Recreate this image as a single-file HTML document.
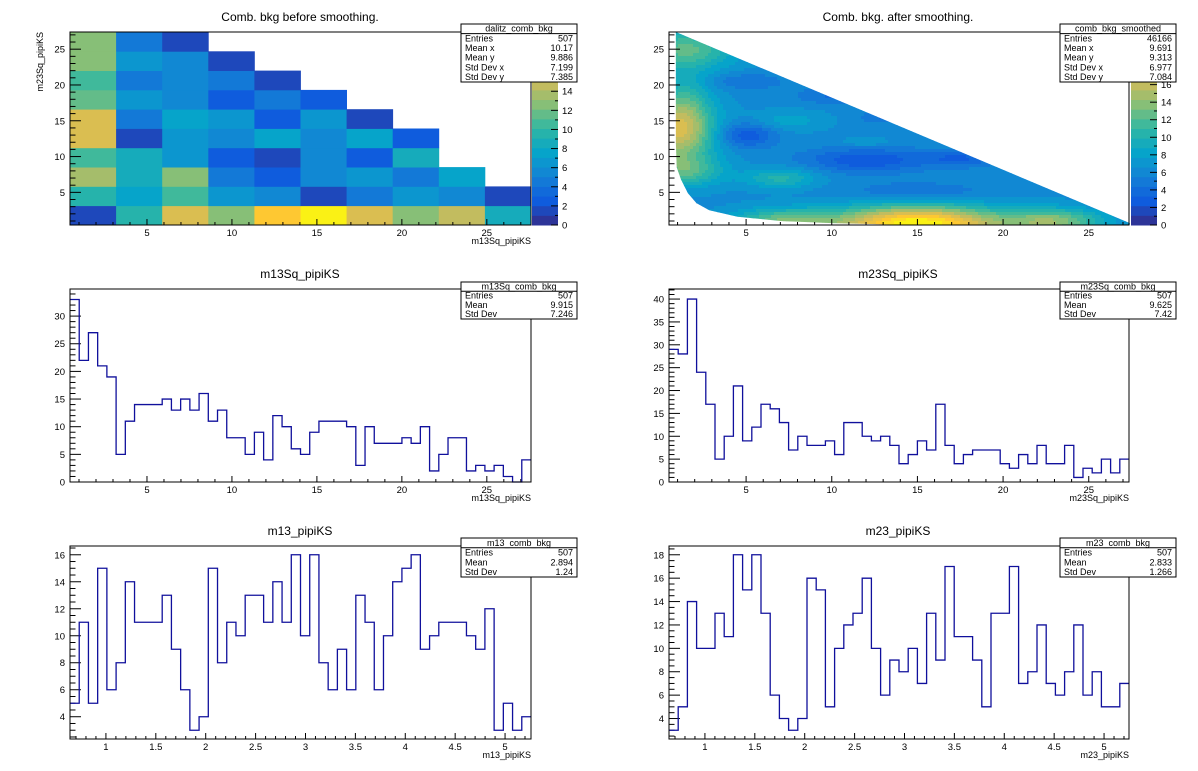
<!DOCTYPE html>
<html><head><meta charset="utf-8"><style>
html,body{margin:0;padding:0;background:#fff;}
svg{display:block;font-family:"Liberation Sans",Arial,sans-serif;}
</style></head><body>
<svg id="c" width="1198" height="771" viewBox="0 0 1198 771" xmlns="http://www.w3.org/2000/svg">
<rect x="0" y="0" width="1198" height="771" fill="#fff"/>
</svg>
<script>
// ---------- data ----------
const dalitzRows = [ // from y bin 1 (bottom) to y bin 10 (top)
  [1.5,10,16,13,18,20,16,13,15,9],
  [10,8,11,7,6,2,5,7,6,2],
  [14,9,13,5,3,6,7,5,8],
  [11,9,7,3,1.5,6,3,9],
  [16,2,7,6,8,6,8,3],
  [16,5,8,7,3,7,2],
  [12,7,6,3,5,3],
  [11,5,6,5,1.5],
  [13,7,6,2],
  [13,5,1.5]
];
const m13SqVals = [33,22,27,21,19,5,11,14,14,14,15,13,15,13,16,11,13,8,8,5,9,4,12,10,6,5,9,11,11,11,10,3,10,7,7,7,8,7,10,2,5,8,8,2,3,2,3,1,0,4];
const m23SqVals = [29,28,40,24,17,5,10,21,9,12,17,16,13,7,10,8,8,9,6,13,13,10,9,10,8,4,6,9,7,17,8,4,6,7,7,7,4,3,6,4,8,4,4,8,1,3,2,5,2,5];
const m13Vals = [5,11,5,15,6,8,14,11,11,11,13,9,6,3,4,15,8,11,10,13,13,11,14,11,16,10,16,8,6,9,6,13,11,6,10,14,15,16,9,10,11,11,11,10,9,12,3,5,3,4];
const m23Vals = [3,5,14,10,10,13,11,18,15,18,13,6,4,3,4,16,15,5,10,12,13,16,10,6,9,8,10,7,13,9,17,11,11,9,5,13,13,17,7,8,12,7,6,8,12,6,8,5,5,7];
// smoothed map blobs: x, y, sigma-x, sigma-y, amplitude
const blobX   = [15, 7, 23, 1, 1.5, 1.5, 7, 12, 5, 17.5, 5, 10, 13, 7.5, 12, 15, 1.5];
const blobY   = [0.5, 1, 1, 13.5, 25, 8, 7, 9.5, 13, 9.7, 20.5, 18.5, 15.5, 15, 12, 5, 18];
const blobSX  = [3.5, 2, 2, 1.5, 2, 1.5, 1.5, 2.5, 1.2, 1.5, 1.5, 1.5, 1, 1.5, 1, 3, 1];
const blobSY  = [1.8, 1.2, 1.2, 3, 2, 1.5, 1, 1.2, 1.2, 0.8, 0.8, 0.8, 0.6, 1, 0.5, 1, 3];
const blobAmp = [16, 6, 7, 10, 6, 5, 4, -4, -4, -3, -2, -2, -2, 2, 1.5, -2, 3];
const smoothBase = 6.3;
const paletteTicksL = [0,2,4,6,8,10,12,14];
const paletteTicksR = [0,2,4,6,8,10,12,14,16];

const NS = "http://www.w3.org/2000/svg";
const svg = document.getElementById('c');
function el(tag, attrs, parent){ const e=document.createElementNS(NS,tag); for(const k in attrs) e.setAttribute(k,attrs[k]); (parent||svg).appendChild(e); return e; }
function txt(s, x, y, size, anchor, parent, extra){ const t=el('text',Object.assign({x:x,y:y,'font-size':size,'text-anchor':anchor||'start',fill:'#000'},extra||{}),parent); t.textContent=s; return t; }

// kBird palette
const bR=[0.2082,0.0592,0.0780,0.0232,0.1802,0.5301,0.8186,0.9956,0.9764];
const bG=[0.1664,0.3599,0.5041,0.6419,0.7178,0.7492,0.7328,0.7862,0.9832];
const bB=[0.5293,0.8684,0.8385,0.7914,0.6425,0.4662,0.3499,0.1968,0.0539];
function bird(t){ t=Math.max(0,Math.min(1,t)); const f=t*8, i=Math.min(7,Math.floor(f)), u=f-i;
  const c=a=>Math.round((a[i]+(a[i+1]-a[i])*u)*255); return `rgb(${c(bR)},${c(bG)},${c(bB)})`; }
function levelColor(v,zmax){ let i=Math.floor(v/zmax*20); i=Math.max(0,Math.min(19,i)); return bird((i+0.5)/20); }

function mkScale(d0,d1,p0,p1){ return v=>p0+(v-d0)/(d1-d0)*(p1-p0); }

function axes(g, f, xr, yr, xMaj, xMin, yMaj, yMin, xFmt){
  const sx=mkScale(xr[0],xr[1],f.x0,f.x1), sy=mkScale(yr[0],yr[1],f.y1,f.y0);
  const ax=el('g',{},g);
  
  
  el('rect',{x:f.x0,y:f.y0,width:f.x1-f.x0,height:f.y1-f.y0,fill:'none',stroke:'#000','stroke-width':1},ax);
  const xmL=6, xmS=3, ymL=11, ymS=5.5;
  for(let v=Math.ceil(xr[0]/xMin)*xMin; v<=xr[1]+1e-9; v+=xMin){ const vv=Math.round(v*1000)/1000; const x=sx(vv);
    const maj=Math.abs(vv/xMaj-Math.round(vv/xMaj))<1e-6;
    el('line',{x1:x,x2:x,y1:f.y1,y2:f.y1-(maj?xmL:xmS),stroke:'#000','stroke-width':1},ax);
    if(maj){ const t=txt(xFmt?xFmt(vv):String(vv),x,f.y1+11,9.5,'middle',ax);   } }
  for(let v=Math.ceil(yr[0]/yMin)*yMin; v<=yr[1]+1e-9; v+=yMin){ const vv=Math.round(v*1000)/1000; const y=sy(vv);
    const maj=Math.abs(vv/yMaj-Math.round(vv/yMaj))<1e-6;
    el('line',{x1:f.x0,x2:f.x0+(maj?ymL:ymS),y1:y,y2:y,stroke:'#000','stroke-width':1},ax);
    if(maj){ const t=txt(String(vv),f.x0-5,y+3.5,9.5,'end',ax);   } }
  return {sx,sy};
}
function statsBox(g, x0,y0,x1,y1, name, rows){
  const b=el('g',{},g);
  
  
  const n=rows.length+1, h=(y1-y0)/n;
  el('rect',{x:x0,y:y0,width:x1-x0,height:y1-y0,fill:'#fff',stroke:'#000','stroke-width':1},b);
  el('line',{x1:x0,x2:x1,y1:y0+h,y2:y0+h,stroke:'#000','stroke-width':1},b);
  txt(name,(x0+x1)/2,y0+h-2,9,'middle',b);
  rows.forEach((r,i)=>{ const y=y0+h*(i+2)-2; txt(r[0],x0+4,y,9,'start',b); txt(r[1],x1-4,y,9,'end',b); });
}
function histo(g, vals, xr, f, sx, sy){
  const n=vals.length, w=(xr[1]-xr[0])/n; let d='';
  vals.forEach((v,i)=>{ const xa=sx(xr[0]+i*w), xb=sx(xr[0]+(i+1)*w), y=sy(v);
    d+=(i===0?`M${xa},${y}`:`L${xa},${y}`)+`L${xb},${y}`; });
  const p=el('path',{d:d,fill:'none',stroke:'#10109c','stroke-width':1.3},g);
  
  
}
function palette(g, x0,x1,y0,y1,zmax,ticks){
  const pg=el('g',{},g);
  
  
  const h=(y1-y0)/20;
  for(let i=0;i<20;i++) el('rect',{x:x0,y:y1-(i+1)*h,width:x1-x0,height:h+0.5,fill:bird((i+0.5)/20)},pg);
  const sz=mkScale(0,zmax,y1,y0);
  ticks.forEach(v=>{ const y=sz(v); el('line',{x1:x1-7,x2:x1,y1:y,y2:y,stroke:'#000'},pg); txt(String(v),x1+4,y+3.5,9.5,'start',pg); });
  for(let v=1;v<zmax;v+=2){ const y=sz(v); el('line',{x1:x1-3,x2:x1,y1:y,y2:y,stroke:'#000'},pg); }
}
function pad(name){ const g=el('g',{});   return g; }

// ---------- Pad 1: dalitz before smoothing ----------
{
  const g=pad('pad-dalitz-before');
  const f={x0:70,x1:531,y0:32,y1:225}, xr=[0.47,27.6], yr=[0.44,27.4];
  const sx=mkScale(xr[0],xr[1],f.x0,f.x1), sy=mkScale(yr[0],yr[1],f.y1,f.y0);
  const bw=(xr[1]-xr[0])/10, bh=(yr[1]-yr[0])/10;
  dalitzRows.forEach((row,j)=>row.forEach((v,i)=>{
    const x=sx(xr[0]+i*bw), y=sy(yr[0]+(j+1)*bh);
    const r=el('rect',{x:x,y:y,width:sx(xr[0]+(i+1)*bw)-x+0.4,height:sy(yr[0]+j*bh)-y+0.4,fill:levelColor(v,20.2)},g);
    
    
  }));
  axes(g,f,xr,yr,5,1,5,1);
  palette(g,532,558,32,225,20.2,paletteTicksL);
  txt('Comb. bkg before smoothing.',300,21,12,'middle',g,{});
  txt('m13Sq_pipiKS',531,244,9,'end',g,{});
  txt('m23Sq_pipiKS',0,0,9,'end',g,{transform:'translate(43,32) rotate(-90)'});
  statsBox(g,461,24,577,82,'dalitz_comb_bkg',[['Entries','507'],['Mean x','10.17'],['Mean y','9.886'],['Std Dev x','7.199'],['Std Dev y','7.385']]);
}
// ---------- Pad 2: after smoothing ----------
{
  const g=pad('pad-dalitz-smoothed');
  const f={x0:669,x1:1129,y0:32,y1:225}, xr=[0.5,27.35], yr=[0.44,27.4];
  const sx=mkScale(xr[0],xr[1],f.x0,f.x1), sy=mkScale(yr[0],yr[1],f.y1,f.y0);
  const bnd=[[0.9,27.4],[27.4,0.7],[27.4,0.5],[14,0.5],[10,0.7],[7,1.0],[4.5,1.6],[2.85,2.5],[2.1,3.5],[1.6,4.9],[1.2,6.8],[0.95,8.5],[0.9,12],[0.9,20]];
  const defs=el('defs',{},g);
  const cp=el('clipPath',{id:'tri'},defs);
  el('polygon',{points:bnd.map(p=>sx(p[0])+','+sy(p[1])).join(' ')},cp);
  const cg=el('g',{'clip-path':'url(#tri)'},g);
  
  
  const step=3;
  for(let px=f.x0;px<f.x1;px+=step){ for(let py=f.y0;py<f.y1;py+=step){
    const x=xr[0]+(px+step/2-f.x0)/(f.x1-f.x0)*(xr[1]-xr[0]);
    const y=yr[0]+(f.y1-py-step/2)/(f.y1-f.y0)*(yr[1]-yr[0]);
    let v=smoothBase;
    for(let k=0;k<blobX.length;k++){ const dx=(x-blobX[k])/blobSX[k], dy=(y-blobY[k])/blobSY[k]; v+=blobAmp[k]*Math.exp(-0.5*(dx*dx+dy*dy)); }
    el('rect',{x:px,y:py,width:step+0.3,height:step+0.3,fill:levelColor(v,22)},cg);
  }}
  axes(g,f,xr,yr,5,1,5,1);
  palette(g,1131,1157,32,225,22,paletteTicksR);
  txt('Comb. bkg. after smoothing.',898,21,12,'middle',g,{});
  statsBox(g,1060,24,1176,82,'comb_bkg_smoothed',[['Entries','46166'],['Mean x','9.691'],['Mean y','9.313'],['Std Dev x','6.977'],['Std Dev y','7.084']]);
}
// ---------- Pad 3: m13Sq ----------
{
  const g=pad('pad-m13sq');
  const f={x0:70,x1:531,y0:289,y1:482}, xr=[0.47,27.6], yr=[0,34.9];
  const a=axes(g,f,xr,yr,5,1,5,1);
  histo(g,m13SqVals,xr,f,a.sx,a.sy);
  el('rect',{x:f.x0,y:f.y0,width:f.x1-f.x0,height:f.y1-f.y0,fill:'none',stroke:'#000'},g);
  txt('m13Sq_pipiKS',300,278,12,'middle',g,{});
  txt('m13Sq_pipiKS',531,501,9,'end',g,{});
  statsBox(g,461,282,577,319,'m13Sq_comb_bkg',[['Entries','507'],['Mean','9.915'],['Std Dev','7.246']]);
}
// ---------- Pad 4: m23Sq ----------
{
  const g=pad('pad-m23sq');
  const f={x0:669,x1:1129,y0:289,y1:482}, xr=[0.5,27.35], yr=[0,42.2];
  const a=axes(g,f,xr,yr,5,1,5,1);
  histo(g,m23SqVals,xr,f,a.sx,a.sy);
  el('rect',{x:f.x0,y:f.y0,width:f.x1-f.x0,height:f.y1-f.y0,fill:'none',stroke:'#000'},g);
  txt('m23Sq_pipiKS',898,278,12,'middle',g,{});
  txt('m23Sq_pipiKS',1129,501,9,'end',g,{});
  statsBox(g,1060,282,1176,319,'m23Sq_comb_bkg',[['Entries','507'],['Mean','9.625'],['Std Dev','7.42']]);
}
// ---------- Pad 5: m13 ----------
{
  const g=pad('pad-m13');
  const f={x0:70,x1:531,y0:546,y1:739}, xr=[0.64,5.26], yr=[2.35,16.65];
  const a=axes(g,f,xr,yr,0.5,0.1,2,0.5,v=>String(v));
  histo(g,m13Vals,xr,f,a.sx,a.sy);
  el('rect',{x:f.x0,y:f.y0,width:f.x1-f.x0,height:f.y1-f.y0,fill:'none',stroke:'#000'},g);
  txt('m13_pipiKS',300,535,12,'middle',g,{});
  txt('m13_pipiKS',531,758,9,'end',g,{});
  statsBox(g,461,538,577,577,'m13_comb_bkg',[['Entries','507'],['Mean','2.894'],['Std Dev','1.24']]);
}
// ---------- Pad 6: m23 ----------
{
  const g=pad('pad-m23');
  const f={x0:669,x1:1129,y0:546,y1:739}, xr=[0.64,5.25], yr=[2.25,18.75];
  const a=axes(g,f,xr,yr,0.5,0.1,2,0.5,v=>String(v));
  histo(g,m23Vals,xr,f,a.sx,a.sy);
  el('rect',{x:f.x0,y:f.y0,width:f.x1-f.x0,height:f.y1-f.y0,fill:'none',stroke:'#000'},g);
  txt('m23_pipiKS',898,535,12,'middle',g,{});
  txt('m23_pipiKS',1129,758,9,'end',g,{});
  statsBox(g,1060,538,1176,577,'m23_comb_bkg',[['Entries','507'],['Mean','2.833'],['Std Dev','1.266']]);
}
</script>
</body></html>
